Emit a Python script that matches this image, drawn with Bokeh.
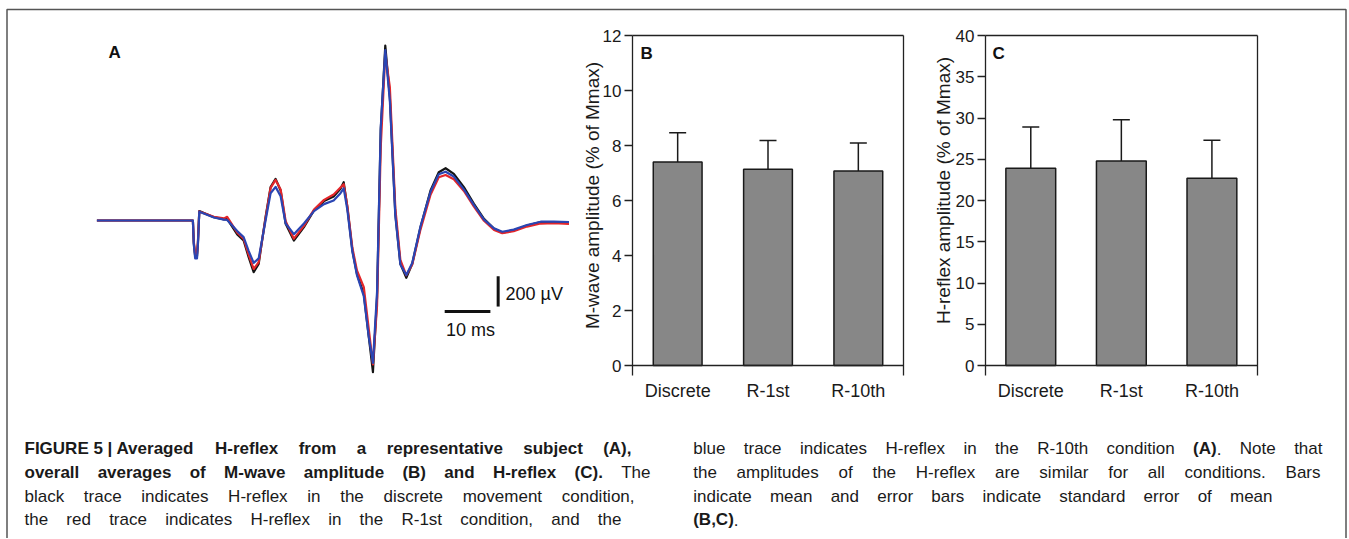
import math
from bokeh.plotting import figure
from bokeh.models import (Range1d, LinearAxis, FixedTicker, Whisker, TeeHead,
                          ColumnDataSource, Grid)
from bokeh.core.properties import value
from bokeh.embed import file_html
from bokeh.resources import INLINE

# ---------------- data ----------------
categories = ["Discrete", "R-1st", "R-10th"]
mwave_mean = [7.40, 7.14, 7.07]
mwave_se = [1.06, 1.04, 1.02]
hreflex_mean = [23.9, 24.8, 22.7]
hreflex_se = [5.0, 5.0, 4.6]
mwave_ticks = [0, 2, 4, 6, 8, 10, 12]
hreflex_ticks = [0, 5, 10, 15, 20, 25, 30, 35, 40]
mwave_label = "M-wave amplitude (% of Mmax)"
hreflex_label = "H-reflex amplitude (% of Mmax)"

# averaged H-reflex traces (time in ms from stimulus, amplitude in µV)
time_ms = [-21.2, -0.2, 0.0, 0.3, 0.7, 0.9, 1.2, 4.4, 6.6, 7.3, 9.5, 10.9, 12.0, 13.1, 14.2,
           15.7, 16.8, 17.9, 19.0, 20.1, 21.9, 24.1, 26.3, 28.5, 30.6, 32.1, 32.8, 33.6, 34.7,
           35.7, 37.2, 38.3, 39.2, 40.1, 40.9, 41.9, 42.9, 44.1, 45.2, 46.5, 47.8, 49.6, 51.8,
           53.6, 55.1, 56.9, 59.1, 61.3, 63.5, 65.7, 67.5, 70.0, 72.9, 75.9, 78.8, 82.1]
uv_discrete = [0, 0, -150, -235, -235, -150, 62, 22, 7, 11, -92, -132, -242, -341, -286,
               22, 220, 275, 198, -22, -132, -44, 66, 128, 158, 209, 253, 88, -198,
               -352, -484, -770, -1001, -506, 594, 1155, 814, 44, -286, -378, -286, -44, 198,
               319, 345, 308, 220, 110, 11, -55, -81, -66, -33, -11, -11, -18]
uv_r1st = [0, 0, -140, -220, -222, -140, 60, 24, 14, 24, -80, -120, -225, -320, -275,
           15, 215, 268, 205, -5, -120, -35, 72, 136, 172, 218, 240, 95, -180,
           -330, -440, -720, -950, -560, 480, 1100, 880, 80, -260, -362, -290, -60, 170,
           285, 300, 272, 195, 92, -2, -62, -84, -70, -40, -20, -18, -22]
uv_r10th = [0, 0, -160, -250, -250, -160, 58, 20, 6, 4, -70, -110, -200, -280, -250,
            0, 180, 222, 160, -20, -90, -20, 62, 108, 132, 180, 212, 70, -205,
            -360, -500, -770, -940, -470, 610, 1125, 790, 30, -290, -360, -280, -40, 190,
            305, 322, 290, 205, 102, 6, -52, -74, -60, -30, -8, -8, -10]
trace_colors = ["#141414", "#e3262a", "#2a45b3"]

scale_ms = 10
scale_uv = 200

caption_left = [
    "**FIGURE\u00a05\u00a0|\u00a0Averaged H-reflex from a representative subject (A),",
    "overall averages of M-wave amplitude (B) and H-reflex (C).** The",
    "black trace indicates H-reflex in the discrete movement condition,",
    "the red trace indicates H-reflex in the R-1st condition, and the",
]
caption_right = [
    "blue trace indicates H-reflex in the R-10th condition **(A)**. Note that",
    "the amplitudes of the H-reflex are similar for all conditions. Bars",
    "indicate mean and error bars indicate standard error of mean",
    "**(B,C)**.",
]

# ---------------- geometry ----------------
W, H = 1348, 538
FONT = "Liberation Sans"


def x_range_for(px0, v0, px_per_unit):
    return Range1d(start=v0 - px0 / px_per_unit, end=v0 + (W - px0) / px_per_unit)


def y_range_for(py0, v0, px_per_unit):
    return Range1d(start=v0 - (H - py0) / px_per_unit, end=v0 + py0 / px_per_unit)


p = figure(width=W, height=H, x_range=Range1d(0, W), y_range=Range1d(H, 0),
           output_backend="svg", toolbar_location=None,
           x_axis_location=None, y_axis_location=None, min_border=0,
           outline_line_color=None, background_fill_color="white", border_fill_color="white")
for g in p.select(type=Grid):
    g.visible = False

ncat = len(categories)
B_PX_X = 271 / ncat
C_PX_X = 271.7 / ncat
B_PX_Y = 330 / mwave_ticks[-1]
C_PX_Y = 330 / hreflex_ticks[-1]
p.extra_x_ranges = {
    "a": x_range_for(193.3, 0, 4.57),
    "b": x_range_for(632, 0, B_PX_X),
    "c": x_range_for(985, 0, C_PX_X),
}
p.extra_y_ranges = {
    "a": y_range_for(220, 0, 30.3 / 200),
    "b": y_range_for(365, 0, B_PX_Y),
    "c": y_range_for(365, 0, C_PX_Y),
}

# outer frame
p.line([6.5, 6.5, 1345.5, 1345.5], [H + 2, 9, 9, H + 2], line_color="#555555", line_width=1.5)

# ---------------- panel A ----------------
for uv, col in zip([uv_discrete, uv_r1st, uv_r10th], trace_colors):
    p.line(time_ms, uv, x_range_name="a", y_range_name="a", line_color=col,
           line_width=2.2, line_join="round")

bar_t0, bar_v = 54.9, -600
vbar_t, vbar_v0 = 66.6, -568
p.segment(x0=[bar_t0, vbar_t], y0=[bar_v, vbar_v0], x1=[bar_t0 + scale_ms, vbar_t],
          y1=[bar_v, vbar_v0 + scale_uv], x_range_name="a", y_range_name="a",
          line_color="#111111", line_width=3)
p.text(x=[68.2, 55.2], y=[-482, -726], text=[f"{scale_uv} µV", f"{scale_ms} ms"],
       x_range_name="a", y_range_name="a", text_font=value(FONT), text_font_size="18px",
       text_baseline="middle", text_align="left", text_color="#111111")

# panel letters
p.text(x=[108, 640, 992], y=[52, 53, 53], text=["A", "B", "C"], text_font=value(FONT),
       text_font_style="bold", text_font_size="17px", text_baseline="middle",
       text_align="left", text_color="#111111")

# ---------------- panels B and C ----------------
centers = [i + 0.5 for i in range(ncat)]


def bar_panel(name, means, ses, ticks, ylabel, label_x, label_y, bar_w, px_y):
    ymax = ticks[-1]
    ext = 10 / px_y  # edges reach 10 px below the zero line
    p.vbar(x=centers, width=bar_w, top=means, bottom=0, x_range_name=name, y_range_name=name,
           fill_color="#878787", line_color="#1a1a1a", line_width=1.5)
    src = ColumnDataSource(dict(x=centers, lower=means, upper=[m + s for m, s in zip(means, ses)]))
    p.add_layout(Whisker(base="x", lower="lower", upper="upper", source=src, dimension="height",
                         upper_head=TeeHead(size=17, line_width=1.5, line_color="#1a1a1a"),
                         lower_head=None, line_width=1.5, line_color="#1a1a1a",
                         x_range_name=name, y_range_name=name))
    line = dict(axis_line_color="#222222", axis_line_width=1.3,
                major_tick_line_color="#222222", major_tick_line_width=1.3,
                minor_tick_line_color=None, x_range_name=name, y_range_name=name)
    yax = LinearAxis(fixed_location=0, bounds=(-ext, ymax), ticker=FixedTicker(ticks=ticks),
                     major_tick_in=0, major_tick_out=8, major_label_standoff=3,
                     major_label_text_font=FONT, major_label_text_font_size="17px",
                     major_label_text_color="#1a1a1a", **line)
    p.add_layout(yax, "left")
    xax = LinearAxis(fixed_location=0, bounds=(0, ncat), ticker=FixedTicker(ticks=[]),
                     major_tick_in=0, major_tick_out=0, **line)
    p.add_layout(xax, "below")
    lab = LinearAxis(fixed_location=0, ticker=FixedTicker(ticks=centers),
                     major_label_overrides={c: t for c, t in zip(centers, categories)},
                     axis_line_color=None, major_tick_line_color=None, minor_tick_line_color=None,
                     major_tick_in=0, major_tick_out=0, major_label_standoff=15,
                     major_label_text_font=FONT, major_label_text_font_size="18px",
                     major_label_text_color="#1a1a1a", x_range_name=name, y_range_name=name)
    p.add_layout(lab, "below")
    top = LinearAxis(fixed_location=ymax, bounds=(0, ncat), ticker=FixedTicker(ticks=[]),
                     major_tick_out=0, major_tick_in=0, **line)
    p.add_layout(top, "above")
    right = LinearAxis(fixed_location=ncat, bounds=(-ext, ymax), ticker=FixedTicker(ticks=[]),
                       major_tick_out=0, major_tick_in=0, **line)
    p.add_layout(right, "right")
    p.text(x=[label_x], y=[label_y], text=[ylabel], angle=math.pi / 2, text_font=value(FONT),
           text_font_size="19px", text_align="center", text_baseline="middle",
           text_color="#1a1a1a")


bar_panel("b", mwave_mean, mwave_se, mwave_ticks, mwave_label, 591.5, 195, 0.54, B_PX_Y)
bar_panel("c", hreflex_mean, hreflex_se, hreflex_ticks, hreflex_label, 943, 190, 0.55, C_PX_Y)

# ---------------- caption ----------------
REG = {" ": 278, "(": 333, ")": 333, ",": 278, ".": 278, "-": 333, "|": 260, "%": 889,
       "A": 667, "B": 667, "C": 722, "D": 722, "E": 667, "F": 611, "G": 778, "H": 722, "I": 278,
       "M": 833, "N": 722, "R": 722, "T": 611, "U": 722, "a": 556, "b": 556, "c": 500, "d": 556,
       "e": 556, "f": 278, "g": 556, "h": 556, "i": 222, "j": 222, "k": 500, "l": 222, "m": 833,
       "n": 556, "o": 556, "p": 556, "q": 556, "r": 333, "s": 500, "t": 278, "u": 556, "v": 500,
       "w": 722, "x": 500, "y": 500, "z": 500}
BOLD = {" ": 278, "(": 333, ")": 333, ",": 278, ".": 278, "-": 333, "|": 280, "%": 889,
        "A": 722, "B": 722, "C": 722, "D": 722, "E": 667, "F": 611, "G": 778, "H": 722, "I": 278,
        "M": 833, "N": 722, "R": 722, "T": 611, "U": 722, "a": 556, "b": 611, "c": 556, "d": 611,
        "e": 556, "f": 333, "g": 611, "h": 611, "i": 278, "j": 278, "k": 556, "l": 278, "m": 889,
        "n": 611, "o": 611, "p": 611, "q": 611, "r": 389, "s": 556, "t": 333, "u": 611, "v": 556,
        "w": 778, "x": 556, "y": 556, "z": 500}
CAP_FS = 17


def seg_width(txt, bold):
    table = BOLD if bold else REG
    return sum(table.get(ch if ch != "\u00a0" else " ", 556) for ch in txt) * CAP_FS / 1000


cap = {False: dict(x=[], y=[], text=[]), True: dict(x=[], y=[], text=[])}


def lay_line(line, x0, x1, y, state, justify=True):
    tokens = []
    for word in line.split(" "):
        segs = []
        parts = word.split("**")
        for k, part in enumerate(parts):
            if k > 0:
                state[0] = not state[0]
            if part:
                segs.append((part.replace("\u00a0", " "), state[0]))
        tokens.append(segs)
    widths = [sum(seg_width(t, b) for t, b in segs) for segs in tokens]
    if justify and len(tokens) > 1:
        gap = (x1 - x0 - sum(widths)) / (len(tokens) - 1)
    else:
        gap = 278 * CAP_FS / 1000
    x = x0
    for segs, w in zip(tokens, widths):
        xx = x
        for t, b in segs:
            cap[b]["x"].append(xx)
            cap[b]["y"].append(y)
            cap[b]["text"].append(t)
            xx += seg_width(t, b)
        x += w + gap


line_y = [448.3, 472.2, 496.0, 519.3]
left_ends = [631, 650, 634, 621]
right_ends = [1322, 1320, 1272, None]
st = [False]
for ln, yy, xe in zip(caption_left, line_y, left_ends):
    lay_line(ln, 24, xe, yy, st)
st = [False]
for ln, yy, xe in zip(caption_right, line_y, right_ends):
    lay_line(ln, 692.7, xe if xe else 0, yy, st, justify=xe is not None)

for b in (False, True):
    p.text(x="x", y="y", text="text", source=ColumnDataSource(cap[b]), text_font=value(FONT),
           text_font_style="bold" if b else "normal", text_font_size=f"{CAP_FS}px",
           text_baseline="middle", text_align="left", text_color="#1a1a1a")

open("out.html", "w").write(file_html(p, INLINE))
